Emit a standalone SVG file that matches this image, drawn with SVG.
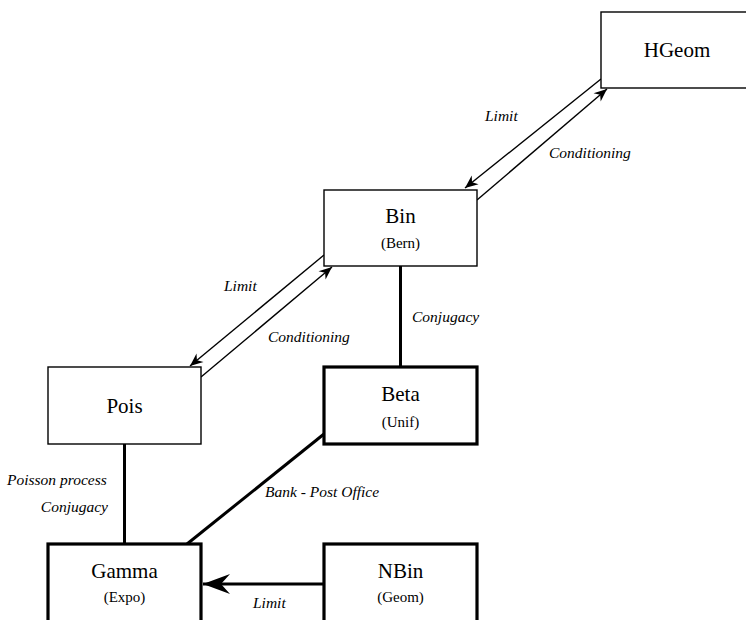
<svg xmlns="http://www.w3.org/2000/svg" width="746" height="620" viewBox="0 0 746 620">
<defs>
<style>
.thin{fill:#fff;stroke:#000;stroke-width:1.4}
.thick{fill:#fff;stroke:#000;stroke-width:3.2}
text{font-family:'Liberation Serif','Times New Roman',Times,'DejaVu Serif',serif;fill:#000}
.name{font-size:21px;text-anchor:middle}
.sub{font-size:15px;text-anchor:middle}
.lbl{font-size:15.5px;font-style:italic}
.cl{fill:none;stroke:#000;stroke-width:1.4}
.ck{fill:none;stroke:#000;stroke-width:3}
</style>
<marker id="ah" markerUnits="userSpaceOnUse" viewBox="-14 -7 16 14" refX="0" refY="0" markerWidth="16" markerHeight="14" orient="auto">
<path d="M0,0 L-13,-5.5 L-9,0 L-13,5.5 Z" fill="#000"/>
</marker>
<marker id="ahb" markerUnits="userSpaceOnUse" viewBox="-29 -12 31 24" refX="0" refY="0" markerWidth="31" markerHeight="24" orient="auto">
<path d="M0,0 L-27,-10 L-18,0 L-27,10 Z" fill="#000"/>
</marker>
</defs>
<rect width="746" height="620" fill="#fff"/>
<g id="connectors">
<path class="cl" d="M601,79 L465,188" marker-end="url(#ah)"/>
<path class="cl" d="M477,200 L607,89" marker-end="url(#ah)"/>
<path class="cl" d="M324,255 L190,366" marker-end="url(#ah)"/>
<path class="cl" d="M201,377 L332,267" marker-end="url(#ah)"/>
<path class="ck" d="M400.5,266 L400.5,367"/>
<path class="ck" d="M124.5,444 L124.5,544"/>
<path class="ck" d="M324,434 L187,544"/>
<path class="ck" d="M324,584 L203,584" marker-end="url(#ahb)"/>
<text class="lbl" x="485" y="121" font-family="Liberation Serif">Limit</text>
<text class="lbl" x="549" y="158">Conditioning</text>
<text class="lbl" x="224" y="291">Limit</text>
<text class="lbl" x="268" y="342">Conditioning</text>
<text class="lbl" x="412" y="322">Conjugacy</text>
<text class="lbl" x="7" y="485">Poisson process</text>
<text class="lbl" x="108" y="512" text-anchor="end">Conjugacy</text>
<text class="lbl" x="265" y="497">Bank - Post Office</text>
<text class="lbl" x="253" y="608">Limit</text>
</g>
<g id="HGeom">
<rect class="thin" x="601" y="12" width="153" height="76"/>
<text class="name" x="677" y="57">HGeom</text>
</g>
<g id="Bin">
<rect class="thin" x="324" y="190" width="153" height="76"/>
<text class="name" x="400.5" y="223">Bin</text>
<text class="sub" x="400.5" y="248">(Bern)</text>
</g>
<g id="Pois">
<rect class="thin" x="48" y="367" width="153" height="77"/>
<text class="name" x="124.5" y="413">Pois</text>
</g>
<g id="Beta">
<rect class="thick" x="324" y="367" width="153" height="77"/>
<text class="name" x="400.5" y="401">Beta</text>
<text class="sub" x="400.5" y="427">(Unif)</text>
</g>
<g id="Gamma">
<rect class="thick" x="48" y="544" width="153" height="80"/>
<text class="name" x="124.5" y="578">Gamma</text>
<text class="sub" x="124.5" y="602">(Expo)</text>
</g>
<g id="NBin">
<rect class="thick" x="324" y="544" width="153" height="80"/>
<text class="name" x="400.5" y="578">NBin</text>
<text class="sub" x="400.5" y="602">(Geom)</text>
</g>
</svg>
